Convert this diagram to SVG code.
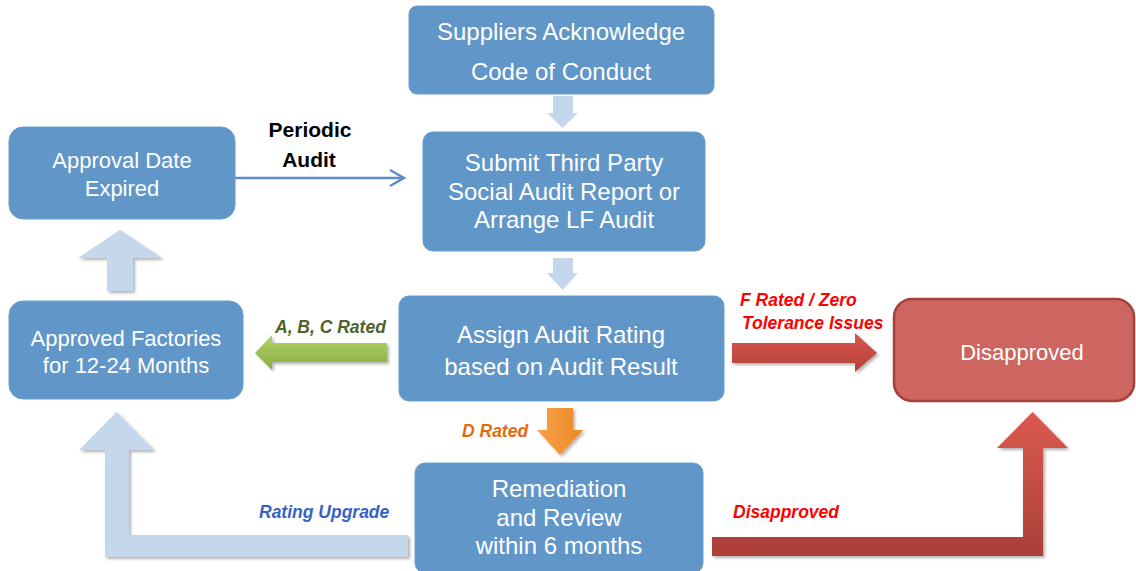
<svg xmlns="http://www.w3.org/2000/svg" width="1136" height="571" viewBox="0 0 1136 571">
  <defs>
    <linearGradient id="gGreen" x1="0" y1="0" x2="0" y2="1">
      <stop offset="0" stop-color="#b3d56a"/>
      <stop offset="1" stop-color="#86ab3e"/>
    </linearGradient>
    <linearGradient id="gOrange" x1="0" y1="0" x2="1" y2="0">
      <stop offset="0" stop-color="#f9a04a"/>
      <stop offset="1" stop-color="#ea8a24"/>
    </linearGradient>
    <linearGradient id="gRedH" x1="0" y1="0" x2="0" y2="1">
      <stop offset="0" stop-color="#d9574d"/>
      <stop offset="1" stop-color="#b2413a"/>
    </linearGradient>
    <linearGradient id="gRedV" x1="0" y1="0" x2="0" y2="1">
      <stop offset="0" stop-color="#dc5a4f"/>
      <stop offset="1" stop-color="#ab3f38"/>
    </linearGradient>
    <filter id="shadow" x="-10%" y="-10%" width="130%" height="130%">
      <feDropShadow dx="2" dy="2" stdDeviation="1.5" flood-color="#000" flood-opacity="0.3"/>
    </filter>
  </defs>
  <style>
    .box { fill: #6196c8; stroke: #6a9dcc; stroke-width: 1; }
    .btxt { fill: #ffffff; font-family: "Liberation Sans", Arial, sans-serif; text-anchor: middle; }
    .lbl { font-family: "Liberation Sans", Arial, sans-serif; font-weight: bold; font-style: italic; font-size: 17.5px; }
    .pale { fill: #c5d7ea; }
  </style>
  <rect width="1136" height="571" fill="#ffffff"/>

  <!-- connectors -->
  <g id="connectors">
    <!-- block arrows in pale blue -->
    <polygon class="pale" points="553,96 573,96 573,113 578,113 562.5,128 547,113 553,113"/>
    <polygon class="pale" points="553,258 573,258 573,273 578,273 562.5,290 547,273 553,273"/>
    <polygon class="pale" filter="url(#shadow)" points="107,291 133,291 133,258 162,258 120,230 78,258 107,258"/>
    <path class="pale" filter="url(#shadow)" d="M408,535 L129,535 L129,450 L154,450 L116.5,412 L79,450 L105,450 L105,557 L408,557 Z"/>

    <!-- periodic audit line arrow -->
    <line x1="235" y1="178" x2="404" y2="178" stroke="#5b8ec7" stroke-width="2.5"/>
    <polyline points="390,170 404,178 390,186" fill="none" stroke="#5b8ec7" stroke-width="2.5"/>

    <!-- rating outcome arrows -->
    <path fill="url(#gGreen)" filter="url(#shadow)" d="M387,343 L272,343 L272,335 L255,353 L272,370 L272,362 L387,362 Z"/>
    <path fill="url(#gRedH)" filter="url(#shadow)" d="M732,343 L855,343 L855,333 L877,353 L855,372 L855,363 L732,363 Z"/>
    <path fill="url(#gOrange)" filter="url(#shadow)" d="M547,408 L573,408 L573,430 L583,430 L560,455 L537,430 L547,430 Z"/>
    <path fill="url(#gRedV)" filter="url(#shadow)" d="M712,537 L1023,537 L1023,448 L997,448 L1032.5,412 L1068,448 L1043,448 L1043,556 L712,556 Z"/>

    <!-- connector labels -->
    <text x="310" y="137" font-family="'Liberation Sans', Arial, sans-serif" font-weight="bold" font-size="21" text-anchor="middle" fill="#000">Periodic</text>
    <text x="309" y="167" font-family="'Liberation Sans', Arial, sans-serif" font-weight="bold" font-size="21" text-anchor="middle" fill="#000">Audit</text>
    <text class="lbl" x="275" y="333" fill="#4f6228">A, B, C Rated</text>
    <text class="lbl" x="740" y="306" fill="#ff0000">F Rated / Zero</text>
    <text class="lbl" x="742" y="329" fill="#ff0000">Tolerance Issues</text>
    <text class="lbl" x="462" y="437" fill="#e36c09">D Rated</text>
    <text class="lbl" x="259" y="518" fill="#3563c6">Rating Upgrade</text>
    <text class="lbl" x="733" y="518" fill="#ff0000">Disapproved</text>
  </g>

  <g id="node-acknowledge">
    <rect class="box" x="409" y="6" width="305" height="88" rx="8"/>
    <text class="btxt" x="561" y="40" font-size="24">Suppliers Acknowledge</text>
    <text class="btxt" x="561" y="80" font-size="24">Code of Conduct</text>
  </g>

  <g id="node-submit">
    <rect class="box" x="423" y="132" width="282" height="119" rx="10"/>
    <text class="btxt" x="564" y="171" font-size="24">Submit Third Party</text>
    <text class="btxt" x="564" y="200" font-size="24">Social Audit Report or</text>
    <text class="btxt" x="564" y="228" font-size="24">Arrange LF Audit</text>
  </g>

  <g id="node-assign">
    <rect class="box" x="399" y="296" width="325" height="105" rx="10"/>
    <text class="btxt" x="561" y="343" font-size="24">Assign Audit Rating</text>
    <text class="btxt" x="561" y="375" font-size="24">based on Audit Result</text>
  </g>

  <g id="node-expired">
    <rect class="box" x="9" y="127" width="226" height="92" rx="14"/>
    <text class="btxt" x="122" y="168" font-size="22">Approval Date</text>
    <text class="btxt" x="122" y="196" font-size="22">Expired</text>
  </g>

  <g id="node-approved">
    <rect class="box" x="9" y="301" width="234" height="98" rx="14"/>
    <text class="btxt" x="126" y="346" font-size="22">Approved Factories</text>
    <text class="btxt" x="126" y="373" font-size="22">for 12-24 Months</text>
  </g>

  <g id="node-remediation">
    <rect class="box" x="415" y="463" width="288" height="110" rx="10"/>
    <text class="btxt" x="559" y="497" font-size="24">Remediation</text>
    <text class="btxt" x="559" y="526" font-size="24">and Review</text>
    <text class="btxt" x="559" y="554" font-size="24">within 6 months</text>
  </g>

  <g id="node-disapproved">
    <rect x="894" y="299" width="240" height="102" rx="18" fill="#cd6660" stroke="#a5403b" stroke-width="2.5"/>
    <text class="btxt" x="1022" y="360" font-size="22">Disapproved</text>
  </g>
</svg>
